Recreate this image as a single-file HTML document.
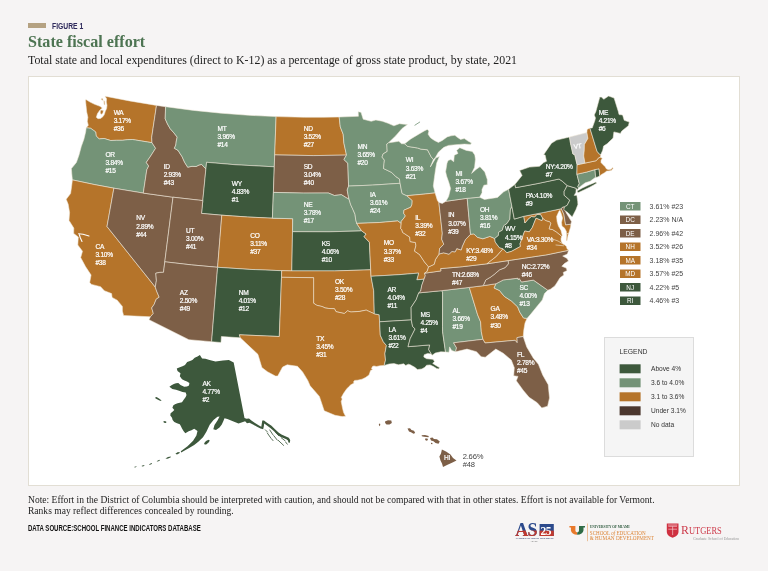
<!DOCTYPE html>
<html><head><meta charset="utf-8"><title>State fiscal effort</title>
<style>
html,body{margin:0;padding:0}
body{width:768px;height:571px;background:#f6f4f4;position:relative;overflow:hidden;font-family:"Liberation Serif",serif;color:#222}
.abs{position:absolute;white-space:nowrap}
#panel{position:absolute;left:28px;top:76px;width:710px;height:408px;background:#fff;border:1px solid #e2ded4}
svg{position:absolute;left:0;top:0}
.s{stroke:#f3ebdc;stroke-width:.55;stroke-linejoin:round}
.lb{font-family:"Liberation Sans",sans-serif;font-size:6.6px;fill:#fff;letter-spacing:-.3px;stroke:#fff;stroke-width:.2px}
.lbd{font-family:"Liberation Sans",sans-serif;font-size:7.6px;fill:#444;letter-spacing:-.2px}
</style></head><body>
<div class="abs" style="left:28px;top:23px;width:18px;height:5px;background:#b5a282"></div>
<div class="abs" style="left:52px;top:20.1px;font:bold 9.8px 'Liberation Sans',sans-serif;color:#2f2a5c;transform:scaleX(.69);transform-origin:0 0">FIGURE 1</div>
<div class="abs" id="title" style="left:28px;top:31.8px;font:bold 17px 'Liberation Serif',serif;color:#4d7452;transform:scaleX(.948);transform-origin:0 0">State fiscal effort</div>
<div class="abs" id="sub" style="left:28px;top:53px;font:12px 'Liberation Serif',serif;color:#1d1d1d;transform:scaleX(.99);transform-origin:0 0">Total state and local expenditures (direct to K-12) as a percentage of gross state product, by state, 2021</div>
<div id="panel"></div>
<svg width="768" height="571" viewBox="0 0 768 571">
<path class="s" fill="#b5742a" d="M86.2,127.8L88.3,125.3L87.3,121.3L87.9,117.3L86.7,112.0L86.0,105.3L85.5,100.5L85.9,99.6L90.0,102.0L94.6,104.3L100.0,106.3L102.3,108.0L100.0,110.0L97.5,113.5L96.3,117.3L98.0,118.7L100.6,118.4L103.0,116.6L104.3,114.6L105.3,111.3L106.6,108.6L107.0,105.3L106.3,102.0L106.6,98.7L105.0,96.2L129.5,100.9L156.5,105.4L151.7,137.3L152.0,142.7L132.5,139.5L127.4,139.7L122.5,140.3L116.6,140.3L110.7,140.5L104.2,138.5L99.2,138.9L96.1,135.9L95.7,132.0L93.2,130.1L90.6,128.3L86.2,127.8ZM100.8,110.0L103.4,110.4L103.0,112.5L102.0,114.2L100.6,114.0L100.2,112.0ZM103.8,100.6L104.7,101.2L104.9,105.0L104.0,104.5ZM101.5,98.5L103.0,98.8L102.8,100.3L101.4,100.0Z"/>
<path class="s" fill="#749377" d="M72.4,179.9L71.8,173.9L71.4,168.6L76.4,162.4L79.0,155.1L81.3,146.4L83.9,139.2L85.7,131.8L86.2,127.8L90.6,128.3L93.2,130.1L95.7,132.0L96.1,135.9L99.2,138.9L104.2,138.5L110.7,140.5L116.6,140.3L122.5,140.3L127.4,139.7L132.5,139.5L152.0,142.7L155.6,148.3L150.7,156.0L146.3,162.4L148.7,166.0L146.8,169.8L143.3,193.1L113.9,188.2L94.1,184.5L72.4,179.9Z"/>
<path class="s" fill="#b5742a" d="M123.6,315.5L122.4,311.1L122.4,306.4L117.2,300.2L112.1,297.4L111.6,293.6L104.3,290.7L100.6,286.7L91.6,284.4L89.7,282.5L91.1,275.0L85.5,266.6L80.7,257.6L82.5,251.2L77.8,245.0L78.3,237.0L73.7,233.4L73.8,228.1L69.0,220.4L69.6,212.5L68.2,204.2L66.2,199.3L70.6,193.5L71.6,186.4L72.4,179.9L94.1,184.5L113.9,188.2L107.0,226.5L155.3,287.1L156.7,291.3L159.2,297.2L156.2,299.2L154.2,304.3L151.7,307.9L153.3,313.4L150.4,316.8L123.6,315.5Z"/>
<path class="s" fill="#7d5f47" d="M113.9,188.2L143.3,193.1L173.0,197.2L164.8,261.8L163.5,272.3L159.7,272.4L155.8,273.2L156.4,280.6L155.3,287.1L107.0,226.5L113.9,188.2Z"/>
<path class="s" fill="#7d5f47" d="M156.5,105.4L165.6,106.7L165.2,118.8L167.5,124.0L170.2,128.7L174.0,133.0L177.2,137.1L176.3,141.0L175.8,145.0L174.4,148.3L178.1,150.4L180.0,153.5L182.1,156.7L184.6,162.3L187.7,167.2L192.0,166.3L196.1,166.5L199.0,165.0L201.7,164.4L203.5,166.5L205.9,168.9L202.8,200.6L173.0,197.2L143.3,193.1L146.8,169.8L148.7,166.0L146.3,162.4L150.7,156.0L155.6,148.3L152.0,142.7L151.7,137.3L156.5,105.4Z"/>
<path class="s" fill="#749377" d="M165.6,106.7L193.6,110.4L221.2,113.2L248.8,115.3L276.1,116.6L274.7,154.9L274.3,166.8L236.0,164.8L206.6,162.3L205.9,168.9L203.5,166.5L201.7,164.4L199.0,165.0L196.1,166.5L192.0,166.3L187.7,167.2L184.6,162.3L182.1,156.7L180.0,153.5L178.1,150.4L174.4,148.3L175.8,145.0L176.3,141.0L177.2,137.1L174.0,133.0L170.2,128.7L167.5,124.0L165.2,118.8L165.6,106.7Z"/>
<path class="s" fill="#3d583c" d="M206.6,162.3L236.0,164.8L274.3,166.8L273.4,192.4L272.4,218.2L247.6,217.0L221.8,215.2L201.5,213.4L202.8,200.6L205.9,168.9L206.6,162.3Z"/>
<path class="s" fill="#7d5f47" d="M173.0,197.2L202.8,200.6L201.5,213.4L221.8,215.2L217.6,267.3L191.7,264.9L164.8,261.8L173.0,197.2Z"/>
<path class="s" fill="#b5742a" d="M221.8,215.2L247.6,217.0L272.4,218.2L292.7,218.7L292.5,231.7L291.8,270.9L281.7,270.7L249.9,269.4L217.6,267.3L221.8,215.2Z"/>
<path class="s" fill="#7d5f47" d="M164.8,261.8L191.7,264.9L217.6,267.3L211.6,341.7L188.9,339.7L149.0,319.7L150.4,316.8L153.3,313.4L151.7,307.9L154.2,304.3L156.2,299.2L159.2,297.2L156.7,291.3L155.3,287.1L156.4,280.6L155.8,273.2L159.7,272.4L163.5,272.3L164.8,261.8Z"/>
<path class="s" fill="#3d583c" d="M217.6,267.3L249.9,269.4L281.7,270.7L281.5,277.3L279.3,336.5L239.4,334.8L240.3,337.8L221.4,336.5L221.0,342.5L211.6,341.7L217.6,267.3Z"/>
<path class="s" fill="#b5742a" d="M276.1,116.6L304.3,117.3L322.8,117.3L339.2,117.0L340.3,126.9L343.2,134.3L343.9,143.1L346.5,155.1L313.5,155.6L274.7,154.9L276.1,116.6Z"/>
<path class="s" fill="#7d5f47" d="M274.7,154.9L313.5,155.6L346.5,155.1L343.9,159.5L347.8,163.2L348.6,186.1L347.2,190.0L348.4,196.4L349.0,199.1L346.4,197.8L341.4,194.7L334.4,195.5L328.4,193.0L303.6,193.1L273.4,192.4L274.3,166.8L274.7,154.9Z"/>
<path class="s" fill="#749377" d="M273.4,192.4L303.6,193.1L328.4,193.0L334.4,195.5L341.4,194.7L346.4,197.8L349.0,199.1L350.7,204.7L352.8,209.2L355.0,214.3L355.7,219.5L356.7,223.4L359.1,227.1L361.7,230.9L329.0,231.8L292.5,231.7L292.7,218.7L272.4,218.2L273.4,192.4Z"/>
<path class="s" fill="#3d583c" d="M292.5,231.7L329.0,231.8L361.7,230.9L366.1,234.0L364.1,236.7L369.4,242.2L370.7,269.8L334.8,270.9L291.8,270.9L292.5,231.7Z"/>
<path class="s" fill="#b5742a" d="M281.7,270.7L291.8,270.9L334.8,270.9L370.7,269.8L371.0,276.3L373.7,290.7L374.3,313.8L366.2,310.1L359.7,311.4L350.9,312.0L347.6,310.8L344.3,313.5L336.1,311.7L334.4,308.7L328.9,308.5L325.0,307.9L322.3,306.6L316.8,305.3L313.6,303.2L313.6,277.7L281.5,277.3L281.7,270.7Z"/>
<path class="s" fill="#b5742a" d="M281.5,277.3L313.6,277.7L313.6,303.2L316.8,305.3L322.3,306.6L325.0,307.9L328.9,308.5L334.4,308.7L336.1,311.7L344.3,313.5L347.6,310.8L350.9,312.0L359.7,311.4L366.2,310.1L374.3,313.8L379.2,314.8L379.6,321.8L380.3,335.2L383.3,341.7L386.4,345.5L384.9,353.5L385.5,360.1L384.2,365.4L380.2,365.7L376.5,366.5L373.9,365.9L372.5,366.5L371.5,368.5L372.6,369.4L370.6,370.5L369.0,375.0L365.5,377.5L362.0,379.2L357.5,380.2L354.6,380.4L353.4,382.0L354.2,383.0L350.8,384.8L348.5,387.0L346.6,389.0L343.6,393.3L341.3,397.4L342.2,399.0L341.2,401.6L341.9,405.0L342.6,408.6L343.6,412.5L345.6,416.3L342.2,416.6L335.0,415.3L324.2,410.8L319.4,396.4L310.1,385.8L307.8,380.5L302.6,371.9L297.5,366.3L287.2,364.8L282.6,367.0L277.7,376.1L275.4,376.0L267.5,371.8L261.9,367.6L257.9,354.3L245.9,343.1L240.3,337.8L239.4,334.8L279.3,336.5L281.5,277.3Z"/>
<path class="s" fill="#749377" d="M339.2,117.0L358.4,116.3L358.2,111.7L361.0,112.3L363.2,119.2L371.2,121.3L375.8,120.0L382.3,121.2L388.1,123.3L393.9,125.8L399.4,123.7L404.4,124.3L407.5,124.5L402.1,128.4L395.6,135.9L388.5,142.8L386.8,144.0L387.2,151.4L383.1,153.9L382.0,157.1L384.4,160.1L383.5,168.5L391.6,172.4L395.8,176.6L399.4,178.9L400.1,183.3L372.7,185.1L348.6,186.1L347.8,163.2L343.9,159.5L346.5,155.1L343.9,143.1L343.2,134.3L340.3,126.9L339.2,117.0Z"/>
<path class="s" fill="#749377" d="M348.6,186.1L372.7,185.1L400.1,183.3L401.3,189.7L402.1,193.5L406.8,195.7L412.2,200.4L412.0,204.3L410.8,207.2L403.9,210.2L403.7,213.4L405.4,215.9L404.0,217.9L401.2,221.4L401.2,223.6L397.8,220.9L379.8,222.5L356.7,223.4L355.7,219.5L355.0,214.3L352.8,209.2L350.7,204.7L349.0,199.1L348.4,196.4L347.2,190.0L348.6,186.1Z"/>
<path class="s" fill="#b5742a" d="M356.7,223.4L379.8,222.5L397.8,220.9L401.2,223.6L400.7,228.6L401.9,229.8L402.6,232.4L409.7,237.1L410.1,241.6L415.4,242.5L415.9,245.7L414.5,251.1L419.6,254.6L424.5,262.0L428.6,266.9L427.1,271.5L424.6,273.2L425.3,275.8L424.0,279.2L416.8,279.8L418.6,273.1L398.9,274.7L371.0,276.3L370.7,269.8L369.4,242.2L364.1,236.7L366.1,234.0L361.7,230.9L359.1,227.1L356.7,223.4Z"/>
<path class="s" fill="#3d583c" d="M371.0,276.3L398.9,274.7L418.6,273.1L416.8,279.8L424.0,279.2L421.8,285.3L420.7,291.0L418.7,292.9L416.2,299.7L411.1,307.4L411.3,319.9L379.6,321.8L379.2,314.8L374.3,313.8L373.7,290.7L371.0,276.3Z"/>
<path class="s" fill="#3d583c" d="M379.6,321.8L411.3,319.9L412.6,326.5L415.1,328.9L410.2,338.6L408.0,346.7L429.7,344.9L428.7,349.6L432.1,355.3L431.3,354.0L427.7,353.4L424.2,354.8L423.8,357.0L426.6,358.7L430.1,359.1L433.0,359.3L434.5,361.4L432.7,363.4L435.9,365.5L439.4,367.6L438.9,369.0L436.5,368.4L433.6,366.6L430.1,364.9L426.6,365.2L424.8,367.3L421.9,368.9L417.4,369.6L414.8,367.3L410.2,364.7L408.4,364.2L405.7,365.4L403.7,363.8L398.4,364.8L394.0,363.6L389.1,364.0L384.2,365.4L385.5,360.1L384.9,353.5L386.4,345.5L383.3,341.7L380.3,335.2L379.6,321.8Z"/>
<path class="s" fill="#3d583c" d="M418.7,292.9L441.4,290.7L442.6,291.9L442.5,326.4L442.6,331.7L445.5,352.0L440.9,351.8L435.3,353.0L432.1,355.3L428.7,349.6L429.7,344.9L408.0,346.7L410.2,338.6L415.1,328.9L412.6,326.5L411.3,319.9L411.1,307.4L416.2,299.7L418.7,292.9Z"/>
<path class="s" fill="#749377" d="M441.4,290.7L469.3,287.4L477.6,314.7L480.6,321.9L481.3,331.7L482.9,339.3L453.6,342.8L456.5,347.8L455.6,351.8L451.7,350.6L449.6,346.9L449.0,352.3L445.5,352.0L442.6,331.7L442.5,326.4L442.6,291.9L441.4,290.7Z"/>
<path class="s" fill="#b5742a" d="M469.3,287.4L483.2,285.7L496.1,283.7L494.1,288.0L499.5,290.5L504.3,296.4L511.7,301.2L517.7,306.9L519.7,312.0L523.5,318.0L527.0,318.4L525.0,323.1L523.8,330.0L523.2,336.5L517.0,337.6L517.2,342.7L515.1,340.3L485.0,343.0L482.9,339.3L481.3,331.7L480.6,321.9L477.6,314.7L469.3,287.4Z"/>
<path class="s" fill="#7d5f47" d="M523.2,336.5L526.7,346.9L533.2,357.9L538.4,364.3L542.7,375.0L548.2,384.7L549.5,397.9L547.6,406.2L541.8,407.9L537.2,402.7L529.1,397.3L523.2,390.3L516.3,380.7L518.0,376.4L513.7,375.8L514.3,367.7L511.3,360.1L503.3,353.3L495.8,349.1L491.6,352.3L485.3,357.2L481.2,356.8L476.5,351.7L467.0,349.1L455.6,351.8L456.5,347.8L453.6,342.8L482.9,339.3L485.0,343.0L515.1,340.3L517.2,342.7L517.0,337.6L523.2,336.5Z"/>
<path class="s" fill="#749377" d="M496.1,283.7L503.3,279.9L518.0,278.2L518.2,279.5L519.3,278.6L521.5,282.0L533.4,280.1L547.8,290.2L544.5,293.5L542.3,299.9L535.9,307.8L530.8,314.1L527.0,318.4L523.5,318.0L519.7,312.0L517.7,306.9L511.7,301.2L504.3,296.4L499.5,290.5L494.1,288.0L496.1,283.7Z"/>
<path class="s" fill="#7d5f47" d="M508.1,260.6L546.9,254.8L568.6,250.3L567.4,254.0L562.7,256.1L567.1,258.4L568.5,261.0L564.4,263.6L561.8,266.3L566.2,268.0L567.1,270.6L563.2,272.4L563.9,275.0L560.0,277.7L557.4,282.0L554.8,285.9L550.4,289.2L547.8,290.2L533.4,280.1L521.5,282.0L519.3,278.6L518.2,279.5L518.0,278.2L503.3,279.9L496.1,283.7L483.2,285.7L485.8,279.9L490.9,276.9L494.8,273.9L499.6,269.8L505.2,267.6L508.4,263.8L508.1,260.6Z"/>
<path class="s" fill="#7d5f47" d="M424.6,273.2L440.9,270.9L440.6,268.6L462.4,266.7L487.0,263.8L508.1,260.6L508.4,263.8L505.2,267.6L499.6,269.8L494.8,273.9L490.9,276.9L485.8,279.9L483.2,285.7L469.3,287.4L441.4,290.7L418.7,292.9L420.7,291.0L421.8,285.3L424.0,279.2L425.3,275.8L424.6,273.2Z"/>
<path class="s" fill="#b5742a" d="M439.1,254.0L443.6,252.8L449.0,254.2L451.9,251.5L455.1,251.9L456.8,248.6L461.2,250.0L462.3,246.3L465.2,239.9L470.5,234.3L473.8,233.9L477.5,237.3L482.9,238.8L489.9,236.4L494.7,238.5L495.2,242.0L499.3,247.6L503.0,248.8L496.4,256.4L487.0,263.8L462.4,266.7L440.6,268.6L440.9,270.9L424.6,273.2L427.1,271.5L428.6,266.9L434.2,264.3L435.4,259.6L439.1,254.0Z"/>
<path class="s" fill="#749377" d="M388.5,142.8L394.2,142.0L398.8,141.2L401.5,143.7L404.6,143.8L407.7,146.4L417.7,148.0L420.7,149.1L427.5,149.8L431.1,156.7L433.4,159.6L430.3,167.0L432.8,162.9L435.7,158.1L439.4,156.4L436.7,163.1L435.5,169.7L434.4,177.5L433.3,186.0L435.1,192.9L423.2,194.2L406.8,195.7L402.1,193.5L401.3,189.7L400.1,183.3L399.4,178.9L395.8,176.6L391.6,172.4L383.5,168.5L384.4,160.1L382.0,157.1L383.1,153.9L387.2,151.4L386.8,144.0L388.5,142.8Z"/>
<path class="s" fill="#b5742a" d="M406.8,195.7L423.2,194.2L435.1,192.9L437.4,200.5L438.9,202.5L442.3,233.2L441.7,239.2L443.8,244.2L439.6,248.6L439.1,254.0L435.4,259.6L434.2,264.3L428.6,266.9L424.5,262.0L419.6,254.6L414.5,251.1L415.9,245.7L415.4,242.5L410.1,241.6L409.7,237.1L402.6,232.4L401.9,229.8L400.7,228.6L401.2,223.6L401.2,221.4L404.0,217.9L405.4,215.9L403.7,213.4L403.9,210.2L410.8,207.2L412.0,204.3L412.2,200.4L406.8,195.7Z"/>
<path class="s" fill="#7d5f47" d="M438.9,202.5L442.3,203.4L445.9,201.3L467.2,198.3L470.5,234.3L465.2,239.9L462.3,246.3L461.2,250.0L456.8,248.6L455.1,251.9L451.9,251.5L449.0,254.2L443.6,252.8L439.1,254.0L439.6,248.6L443.8,244.2L441.7,239.2L442.3,233.2L438.9,202.5Z"/>
<path class="s" fill="#749377" d="M467.2,198.3L479.6,197.2L484.5,199.5L487.5,199.0L494.5,197.9L497.5,197.4L503.7,191.8L508.6,189.3L511.9,206.4L510.4,209.7L509.9,219.1L507.0,223.5L503.7,225.8L502.3,230.2L498.6,232.3L498.4,235.5L494.7,238.5L489.9,236.4L482.9,238.8L477.5,237.3L473.8,233.9L470.5,234.3L467.2,198.3Z"/>
<path class="s" fill="#749377" d="M445.9,201.3L448.6,196.6L450.6,188.5L448.8,182.3L446.6,176.1L445.6,171.7L447.0,163.2L448.1,160.5L450.9,159.5L453.7,161.7L454.3,155.2L458.0,153.4L456.6,150.4L459.8,147.7L466.3,150.4L472.3,151.4L474.8,154.9L475.4,159.3L474.6,167.2L471.6,173.4L476.0,169.5L480.0,166.7L484.8,172.1L487.3,179.5L487.3,184.7L483.9,185.2L482.0,189.4L482.0,192.7L479.6,197.2L467.2,198.3L445.9,201.3ZM433.4,159.6L435.4,157.4L438.4,152.3L440.7,150.0L443.9,147.3L448.6,145.4L455.7,144.7L459.7,144.4L464.4,144.1L470.4,144.4L471.5,142.9L468.3,141.3L464.4,138.6L460.5,139.4L457.3,137.3L454.9,135.3L451.0,135.8L447.1,136.9L442.3,140.5L438.4,142.4L434.4,140.5L430.5,137.8L428.1,134.2L428.9,131.0L427.3,129.4L424.2,131.0L418.7,134.2L410.8,138.9L404.6,143.8L407.7,146.4L417.7,148.0L420.7,149.1L427.5,149.8L431.1,156.7L433.4,159.6Z"/>
<path class="s" fill="#3d583c" d="M511.9,206.4L514.3,219.1L523.8,216.3L524.9,223.0L528.5,218.7L531.4,216.5L534.7,216.9L536.8,214.4L540.7,214.6L542.6,218.0L542.0,220.7L536.0,218.2L532.3,227.5L529.3,231.8L524.7,231.0L520.0,243.8L520.5,246.4L511.4,251.4L506.8,252.7L503.0,248.8L499.3,247.6L495.2,242.0L494.7,238.5L498.4,235.5L498.6,232.3L502.3,230.2L503.7,225.8L507.0,223.5L509.9,219.1L510.4,209.7L511.9,206.4Z"/>
<path class="s" fill="#b5742a" d="M503.0,248.8L506.8,252.7L511.4,251.4L520.5,246.4L520.0,243.8L524.7,231.0L529.3,231.8L532.3,227.5L536.0,218.2L542.0,220.7L542.6,218.0L545.4,220.4L549.7,221.7L550.9,223.2L549.2,228.9L552.6,229.6L556.5,232.0L561.7,236.3L561.0,238.7L561.2,241.2L562.6,243.7L564.8,245.0L566.3,246.2L567.1,248.8L568.6,250.3L546.9,254.8L508.1,260.6L487.0,263.8L496.4,256.4L503.0,248.8ZM566.5,233.8L566.7,235.6L566.3,240.0L566.9,241.2L568.0,235.6L568.6,233.5Z"/>
<path class="s" fill="#b5742a" d="M523.8,216.3L543.8,212.4L561.1,208.8L562.2,210.5L563.9,214.5L565.6,224.8L570.9,224.2L570.6,226.9L569.3,231.3L568.6,233.5L566.5,233.8L566.3,231.3L564.3,227.8L562.0,226.2L561.5,222.5L562.5,218.1L561.3,213.8L559.9,210.3L558.8,211.6L556.6,216.4L557.1,221.6L558.4,226.0L561.0,230.4L562.3,235.6L561.7,236.3L556.5,232.0L552.6,229.6L549.2,228.9L550.9,223.2L549.7,221.7L545.4,220.4L542.6,218.0L540.7,214.6L536.8,214.4L534.7,216.9L531.4,216.5L528.5,218.7L524.9,223.0L523.8,216.3Z"/>
<path class="s" fill="#7d5f47" d="M561.1,208.8L562.6,207.0L564.5,206.8L564.3,208.5L566.3,212.9L568.9,217.3L571.5,221.6L570.9,224.2L565.6,224.8L563.9,214.5L562.2,210.5L561.1,208.8Z"/>
<path class="s" fill="#3d583c" d="M508.6,189.3L515.0,184.3L515.6,187.7L537.9,183.5L559.0,179.0L562.4,181.3L567.2,185.6L564.1,191.5L564.2,195.3L569.8,200.2L567.2,205.3L564.5,206.8L562.6,207.0L561.1,208.8L543.8,212.4L523.8,216.3L514.3,219.1L511.9,206.4L508.6,189.3Z"/>
<path class="s" fill="#3d583c" d="M567.2,185.6L576.2,188.3L575.9,192.4L574.2,195.4L576.8,195.2L577.7,201.3L577.9,204.6L575.9,209.7L572.2,216.9L568.1,212.8L563.8,209.8L564.5,206.8L567.2,205.3L569.8,200.2L564.2,195.3L564.1,191.5L567.2,185.6Z"/>
<path class="s" fill="#3d583c" d="M515.0,184.3L522.1,175.4L519.6,170.4L529.5,167.1L539.5,166.3L543.7,162.5L546.5,161.3L545.1,155.0L543.6,154.7L551.5,143.2L556.6,140.1L569.5,137.0L570.5,143.3L572.9,154.0L574.8,154.8L577.1,164.8L576.9,174.2L579.3,183.6L577.8,186.6L578.6,187.9L577.1,190.1L576.2,188.3L567.2,185.6L562.4,181.3L559.0,179.0L537.9,183.5L515.6,187.7L515.0,184.3ZM577.0,191.0L582.4,188.0L588.2,185.3L593.2,183.2L596.0,181.9L596.6,183.2L593.8,184.9L589.6,187.3L584.4,189.8L578.0,192.8L577.0,191.0Z"/>
<path class="s" fill="#749377" d="M576.9,174.2L586.8,172.0L595.0,169.6L595.6,177.2L590.1,181.3L585.3,182.8L581.7,185.4L578.6,187.9L577.8,186.6L579.3,183.6L576.9,174.2Z"/>
<path class="s" fill="#3d583c" d="M595.0,169.6L599.0,168.8L599.4,172.0L599.8,176.0L597.0,177.2L595.6,177.2L595.0,169.6Z"/>
<path class="s" fill="#b5742a" d="M577.1,164.8L585.0,163.1L596.2,160.7L598.6,157.8L600.3,157.3L602.3,158.3L601.0,160.5L601.0,162.6L603.1,164.7L605.2,166.8L606.3,168.8L608.5,169.8L611.0,169.3L612.8,167.6L613.2,168.3L611.3,170.4L608.5,171.0L606.8,171.0L604.5,172.8L601.5,174.5L599.8,176.0L599.4,172.0L599.0,168.8L595.0,169.6L586.8,172.0L576.9,174.2L577.1,164.8Z"/>
<path class="s" fill="#cbcbcb" d="M569.5,137.0L586.9,132.6L587.9,138.4L584.4,144.5L584.3,149.8L583.7,155.9L585.0,163.1L577.1,164.8L574.8,154.8L572.9,154.0L570.5,143.3L569.5,137.0Z"/>
<path class="s" fill="#b5742a" d="M586.9,132.6L587.1,129.4L589.9,128.0L597.0,151.2L599.5,154.2L600.8,154.6L600.3,157.3L598.6,157.8L596.2,160.7L585.0,163.1L583.7,155.9L584.3,149.8L584.4,144.5L587.9,138.4L586.9,132.6Z"/>
<path class="s" fill="#3d583c" d="M589.9,128.0L592.2,128.0L594.8,120.8L595.5,117.9L594.2,115.0L595.8,111.7L599.8,97.1L601.5,97.1L603.7,99.3L608.6,96.0L614.1,98.0L618.3,111.5L619.0,114.6L622.6,114.9L624.2,120.3L629.3,122.1L628.4,125.7L621.8,131.0L620.4,133.4L613.9,131.9L613.1,138.1L607.1,143.8L603.6,146.1L602.7,150.3L600.8,154.6L599.5,154.2L597.0,151.2L589.9,128.0Z"/>
<path fill="#3d583c" d="M199.9,355.1L202.1,358.4L205.5,358.8L209.5,359.9L215.5,361.4L222.9,360.6L228.9,359.9L233.7,362.6L244.5,417.9L246.5,418.8L249,418.6L251.4,420.5L255,423L259,425.6L261.3,426.8L261.8,423.5L262.3,420.5L264,420.4L267,422.8L271.5,425.8L275,429.3L278.8,432.8L281.5,434.6L284.2,435.8L288.8,437.8L290.2,440L289.9,442.8L288.4,442.6L288,440.4L286.3,439.2L283.3,438L280.3,436.7L277.3,434.4L273.8,431L270.3,427.9L266.3,425.1L264.2,423.6L263.8,426.5L263.2,429.2L260.5,428.6L257,426.8L253,424.5L249.5,422.8L247,423.2L245.1,421.2L241.5,422.6L238.5,423.4L232.9,421.2L227.4,418.9L224.5,418.3L223.4,421L221.8,424.5L219.5,427.5L216,430L213.3,429.2L214.5,425L217.5,420.5L219.6,416.6L217.5,416.8L213.5,420L209.7,424.8L206.4,431.7L203,437.2L198.6,441.6L194.2,444.9L188.7,448.3L184.2,450.7L181.2,452.6L180.8,451.2L187.5,446.3L193.1,440.7L196.4,435.4L197.5,431L194.2,428.8L191.5,430.2L188.7,431.2L185.3,433.2L183.5,431L182,428.6L180.8,426L179.8,424.3L177,423.3L174.3,422.1L172.6,420L172,417.7L170.3,415.5L170.6,413.3L172.5,411.8L174.3,410L172.4,407.8L173.2,405.5L175,404.3L177.6,403.3L182,402.3L183.5,400.1L185.7,397.1L186.5,394.9L185.7,392.6L182.5,391.9L179.8,391.1L176,389.7L172.3,388.9L169.4,386.7L171.5,385.2L173.8,384L176,383.2L178.3,383L180.5,384.9L184.2,386.7L187,386.4L189,385.5L189.4,383L187,381.6L185,380.7L182,379.2L179.8,376.3L180.5,373.3L177.5,371L176.8,368.5L179.8,367.3L182.5,366.3L185,365.1L187.2,362.1L190,361L192.4,359.9L194.7,357.7L197.5,356.5ZM155.2,397.4L156.5,397.0L159,398.6L161.3,400.2L161.2,401L159.5,400.6L157,399.2L155.3,398.2ZM163.2,421.4L165,421L166.6,421.9L165.8,422.9L164,422.8ZM204.1,443.2L206,441L208.5,439.8L209.8,440.6L208.6,442.6L206.2,444.4L204.6,444.4ZM175.4,453.8L177.5,452.3L179.8,452L179.4,453.3L177,454.4ZM165.4,458.4L168,457L170.9,456.4L170.5,457.6L167.5,458.8ZM156.6,461.3L158.3,460.2L159.9,459.8L159.6,460.8L157.8,461.6ZM148.8,464.4L150.5,463.5L152.1,463.1L151.8,464L150,464.7ZM141.5,465.9L143,465.3L144.5,465.2L144.2,465.9L142.5,466.4ZM134,467L135.5,466.5L136.8,466.5L136.4,467.1L135,467.4Z"/><path fill="none" stroke="#3d583c" stroke-width="1" stroke-linecap="round" opacity=".85" d="M265.3,429.8L267.5,432M267.3,433L270.8,438M269.8,430L272.8,434.6M273.7,435.6L277.3,440.1M278.3,440.4L283.6,445.4M281.2,437.7L285.3,441M275.7,432.4L278.8,435.8M285.8,442.3L287.3,444.2M271.5,438.8L273,440.6"/>
<path fill="#7d5f47" d="M441.9,449.4L446,451.5L450.5,454.5L453,458L456.5,460.4L452.5,462.5L447,465L443,467L442,463.5L440.5,460.5L439.4,456.5L441,453.5Z"/>
<path fill="#7d5f47" d="M430,438L432.5,437.5L434,439L437,439.2L439.8,441.5L438.5,443.7L435.5,443L433.5,441.2L431,440.5Z"/>
<path fill="#7d5f47" d="M421.7,435.2L425,435L428.7,436L428.5,437.2L424,436.8L421.8,436.3Z"/>
<path fill="#7d5f47" d="M425.2,438.6L427.4,438.4L428,440L426.5,440.8L425.2,440Z"/>
<path fill="#7d5f47" d="M431,442.8L432.5,443L432.3,444.2L431,444Z"/>
<path fill="#7d5f47" d="M407.5,428.5L410,428.2L411.5,430L414,430.8L415.2,433L413.5,433.7L411,432.3L409,431.5Z"/>
<path fill="#7d5f47" d="M385,421.5L388,420.2L391.3,420.6L391.8,423L389.5,424.6L386.5,424.4L385.2,423Z"/>
<path fill="#7d5f47" d="M378.8,424L380,423.6L380.3,425L379.2,426.2Z"/>
<path fill="none" stroke="#fff" stroke-width="1.1" stroke-linecap="round" stroke-linejoin="round" d="M78.6,233.8L83,234.2L89,236M79.3,234.6L80.4,238L82,241.5"/>
<path fill="none" stroke="#f4ecdd" stroke-width=".6" stroke-linecap="round" d="M553.1,239.2L558,241L562,243.4M556,245L563.5,245.8"/>
<path fill="none" stroke="#749377" stroke-width="1" stroke-linecap="round" opacity=".8" d="M414.9,125.2L419.7,122.1"/>
<rect x="604.5" y="337.5" width="89" height="119" fill="#f5f5f5" stroke="#dcdcdc" stroke-width="1"/>
<text x="619.5" y="354.3" style="font:6.8px 'Liberation Sans',sans-serif;fill:#333">LEGEND</text>
<rect x="619.6" y="364.3" width="21" height="9" fill="#3d583c"/>
<text x="651" y="371.2" style="font:6.6px 'Liberation Sans',sans-serif;fill:#333">Above 4%</text>
<rect x="619.6" y="378.3" width="21" height="9" fill="#749377"/>
<text x="651" y="385.2" style="font:6.6px 'Liberation Sans',sans-serif;fill:#333">3.6 to 4.0%</text>
<rect x="619.6" y="392.3" width="21" height="9" fill="#b5742a"/>
<text x="651" y="399.2" style="font:6.6px 'Liberation Sans',sans-serif;fill:#333">3.1 to 3.6%</text>
<rect x="619.6" y="406.3" width="21" height="9" fill="#4b372e"/>
<text x="651" y="413.2" style="font:6.6px 'Liberation Sans',sans-serif;fill:#333">Under 3.1%</text>
<rect x="619.6" y="420.3" width="21" height="9" fill="#cbcbcb"/>
<text x="651" y="427.2" style="font:6.6px 'Liberation Sans',sans-serif;fill:#333">No data</text>
<rect x="620" y="202.0" width="20.5" height="8.5" fill="#749377"/>
<text x="630.2" y="208.6" text-anchor="middle" style="font:6.4px 'Liberation Sans',sans-serif;fill:#fff">CT</text>
<text x="649.6" y="208.8" style="font:7px 'Liberation Sans',sans-serif;fill:#444">3.61% #23</text>
<rect x="620" y="215.5" width="20.5" height="8.5" fill="#7d5f47"/>
<text x="630.2" y="222.1" text-anchor="middle" style="font:6.4px 'Liberation Sans',sans-serif;fill:#fff">DC</text>
<text x="649.6" y="222.3" style="font:7px 'Liberation Sans',sans-serif;fill:#444">2.23% N/A</text>
<rect x="620" y="229.0" width="20.5" height="8.5" fill="#7d5f47"/>
<text x="630.2" y="235.6" text-anchor="middle" style="font:6.4px 'Liberation Sans',sans-serif;fill:#fff">DE</text>
<text x="649.6" y="235.8" style="font:7px 'Liberation Sans',sans-serif;fill:#444">2.96% #42</text>
<rect x="620" y="242.5" width="20.5" height="8.5" fill="#b5742a"/>
<text x="630.2" y="249.1" text-anchor="middle" style="font:6.4px 'Liberation Sans',sans-serif;fill:#fff">NH</text>
<text x="649.6" y="249.3" style="font:7px 'Liberation Sans',sans-serif;fill:#444">3.52% #26</text>
<rect x="620" y="256.0" width="20.5" height="8.5" fill="#b5742a"/>
<text x="630.2" y="262.6" text-anchor="middle" style="font:6.4px 'Liberation Sans',sans-serif;fill:#fff">MA</text>
<text x="649.6" y="262.8" style="font:7px 'Liberation Sans',sans-serif;fill:#444">3.18% #35</text>
<rect x="620" y="269.5" width="20.5" height="8.5" fill="#b5742a"/>
<text x="630.2" y="276.1" text-anchor="middle" style="font:6.4px 'Liberation Sans',sans-serif;fill:#fff">MD</text>
<text x="649.6" y="276.3" style="font:7px 'Liberation Sans',sans-serif;fill:#444">3.57% #25</text>
<rect x="620" y="283.0" width="20.5" height="8.5" fill="#3d583c"/>
<text x="630.2" y="289.6" text-anchor="middle" style="font:6.4px 'Liberation Sans',sans-serif;fill:#fff">NJ</text>
<text x="649.6" y="289.8" style="font:7px 'Liberation Sans',sans-serif;fill:#444">4.22% #5</text>
<rect x="620" y="296.5" width="20.5" height="8.5" fill="#3d583c"/>
<text x="630.2" y="303.1" text-anchor="middle" style="font:6.4px 'Liberation Sans',sans-serif;fill:#fff">RI</text>
<text x="649.6" y="303.3" style="font:7px 'Liberation Sans',sans-serif;fill:#444">4.46% #3</text>
<text class="lb"><tspan x="113.7" y="115.1">WA</tspan><tspan x="113.7" y="123.2">3.17%</tspan><tspan x="113.7" y="131.2">#36</tspan></text>
<text class="lb"><tspan x="105.5" y="156.9">OR</tspan><tspan x="105.5" y="165.0">3.84%</tspan><tspan x="105.5" y="173.0">#15</tspan></text>
<text class="lb"><tspan x="163.7" y="168.6">ID</tspan><tspan x="163.7" y="176.7">2.93%</tspan><tspan x="163.7" y="184.7">#43</tspan></text>
<text class="lb"><tspan x="217.5" y="131.1">MT</tspan><tspan x="217.5" y="139.2">3.96%</tspan><tspan x="217.5" y="147.2">#14</tspan></text>
<text class="lb"><tspan x="231.8" y="186.2">WY</tspan><tspan x="231.8" y="194.3">4.83%</tspan><tspan x="231.8" y="202.3">#1</tspan></text>
<text class="lb"><tspan x="136.2" y="220.4">NV</tspan><tspan x="136.2" y="228.5">2.89%</tspan><tspan x="136.2" y="236.5">#44</tspan></text>
<text class="lb"><tspan x="95.5" y="248.6">CA</tspan><tspan x="95.5" y="256.6">3.10%</tspan><tspan x="95.5" y="264.7">#38</tspan></text>
<text class="lb"><tspan x="186.1" y="232.9">UT</tspan><tspan x="186.1" y="241.0">3.00%</tspan><tspan x="186.1" y="249.0">#41</tspan></text>
<text class="lb"><tspan x="179.8" y="295.0">AZ</tspan><tspan x="179.8" y="303.1">2.50%</tspan><tspan x="179.8" y="311.1">#49</tspan></text>
<text class="lb"><tspan x="238.7" y="294.9">NM</tspan><tspan x="238.7" y="302.9">4.01%</tspan><tspan x="238.7" y="311.0">#12</tspan></text>
<text class="lb"><tspan x="250.2" y="238.0">CO</tspan><tspan x="250.2" y="246.1">3.11%</tspan><tspan x="250.2" y="254.1">#37</tspan></text>
<text class="lb"><tspan x="316.2" y="340.6">TX</tspan><tspan x="316.2" y="348.6">3.45%</tspan><tspan x="316.2" y="356.7">#31</tspan></text>
<text class="lb"><tspan x="335.0" y="283.6">OK</tspan><tspan x="335.0" y="291.6">3.50%</tspan><tspan x="335.0" y="299.7">#28</tspan></text>
<text class="lb"><tspan x="321.7" y="246.1">KS</tspan><tspan x="321.7" y="254.2">4.06%</tspan><tspan x="321.7" y="262.2">#10</tspan></text>
<text class="lb"><tspan x="303.7" y="131.1">ND</tspan><tspan x="303.7" y="139.2">3.52%</tspan><tspan x="303.7" y="147.2">#27</tspan></text>
<text class="lb"><tspan x="303.7" y="168.6">SD</tspan><tspan x="303.7" y="176.7">3.04%</tspan><tspan x="303.7" y="184.7">#40</tspan></text>
<text class="lb"><tspan x="303.7" y="206.9">NE</tspan><tspan x="303.7" y="215.0">3.78%</tspan><tspan x="303.7" y="223.0">#17</tspan></text>
<text class="lb"><tspan x="357.5" y="148.6">MN</tspan><tspan x="357.5" y="156.7">3.65%</tspan><tspan x="357.5" y="164.7">#20</tspan></text>
<text class="lb"><tspan x="405.8" y="162.4">WI</tspan><tspan x="405.8" y="170.5">3.63%</tspan><tspan x="405.8" y="178.5">#21</tspan></text>
<text class="lb"><tspan x="455.5" y="176.1">MI</tspan><tspan x="455.5" y="184.2">3.67%</tspan><tspan x="455.5" y="192.2">#18</tspan></text>
<text class="lb"><tspan x="370.0" y="196.9">IA</tspan><tspan x="370.0" y="205.0">3.61%</tspan><tspan x="370.0" y="213.0">#24</tspan></text>
<text class="lb"><tspan x="415.2" y="219.9">IL</tspan><tspan x="415.2" y="228.0">3.39%</tspan><tspan x="415.2" y="236.0">#32</tspan></text>
<text class="lb"><tspan x="448.3" y="217.4">IN</tspan><tspan x="448.3" y="225.5">3.07%</tspan><tspan x="448.3" y="233.5">#39</tspan></text>
<text class="lb"><tspan x="480.0" y="212.0">OH</tspan><tspan x="480.0" y="220.1">3.81%</tspan><tspan x="480.0" y="228.1">#16</tspan></text>
<text class="lb"><tspan x="505.0" y="231.4">WV</tspan><tspan x="505.0" y="239.5">4.15%</tspan><tspan x="505.0" y="247.5">#8</tspan></text>
<text class="lb"><tspan x="598.7" y="114.9">ME</tspan><tspan x="598.7" y="123.0">4.21%</tspan><tspan x="598.7" y="131.0">#6</tspan></text>
<text class="lb"><tspan x="545.7" y="168.7">NY:4.20%</tspan><tspan x="545.7" y="176.8">#7</tspan></text>
<text class="lb"><tspan x="525.7" y="198.0">PA:4.10%</tspan><tspan x="525.7" y="206.1">#9</tspan></text>
<text class="lb"><tspan x="466.2" y="253.1">KY:3.48%</tspan><tspan x="466.2" y="261.1">#29</tspan></text>
<text class="lb"><tspan x="452.0" y="276.6">TN:2.68%</tspan><tspan x="452.0" y="284.6">#47</tspan></text>
<text class="lb"><tspan x="521.7" y="268.6">NC:2.72%</tspan><tspan x="521.7" y="276.6">#46</tspan></text>
<text class="lb"><tspan x="526.7" y="241.6">VA:3.30%</tspan><tspan x="526.7" y="249.7">#34</tspan></text>
<text class="lb"><tspan x="519.5" y="289.9">SC</tspan><tspan x="519.5" y="297.9">4.00%</tspan><tspan x="519.5" y="306.0">#13</tspan></text>
<text class="lb"><tspan x="490.6" y="311.4">GA</tspan><tspan x="490.6" y="319.4">3.48%</tspan><tspan x="490.6" y="327.5">#30</tspan></text>
<text class="lb"><tspan x="452.5" y="312.7">AL</tspan><tspan x="452.5" y="320.8">3.66%</tspan><tspan x="452.5" y="328.8">#19</tspan></text>
<text class="lb"><tspan x="420.6" y="317.0">MS</tspan><tspan x="420.6" y="325.1">4.25%</tspan><tspan x="420.6" y="333.1">#4</tspan></text>
<text class="lb"><tspan x="383.7" y="245.4">MO</tspan><tspan x="383.7" y="253.5">3.37%</tspan><tspan x="383.7" y="261.5">#33</tspan></text>
<text class="lb"><tspan x="387.5" y="291.6">AR</tspan><tspan x="387.5" y="299.6">4.04%</tspan><tspan x="387.5" y="307.7">#11</tspan></text>
<text class="lb"><tspan x="388.4" y="331.6">LA</tspan><tspan x="388.4" y="339.6">3.61%</tspan><tspan x="388.4" y="347.7">#22</tspan></text>
<text class="lb"><tspan x="517.0" y="356.9">FL</tspan><tspan x="517.0" y="364.9">2.78%</tspan><tspan x="517.0" y="373.0">#45</tspan></text>
<text class="lb"><tspan x="202.5" y="386.1">AK</tspan><tspan x="202.5" y="394.1">4.77%</tspan><tspan x="202.5" y="402.2">#2</tspan></text>
<text class="lb" transform="translate(574,149) rotate(-8)">VT</text>
<text class="lb" x="444" y="459.8">HI</text>
<text class="lbd"><tspan x="462.7" y="458.8">2.66%</tspan><tspan x="462.7" y="467">#48</tspan></text>
<g id="asi">
<text x="515.2" y="536" style="font:bold 18px 'Liberation Serif',serif;fill:#2c4a8c;letter-spacing:-.6px">AS</text>
<rect x="515" y="530.6" width="24" height="5.6" fill="#f5f3f2" opacity="0"/>
<clipPath id="asic"><rect x="514" y="530.4" width="26" height="6"/></clipPath>
<text x="515.2" y="536" clip-path="url(#asic)" style="font:bold 18px 'Liberation Serif',serif;fill:#c0392f;letter-spacing:-.6px">AS</text>
<rect x="539.6" y="524" width="14.2" height="12" fill="#2c4a8c"/>
<rect x="539.6" y="530.6" width="14.2" height="5.4" fill="#c0392f"/>
<text x="540.6" y="534.6" style="font:bold 11.5px 'Liberation Serif',serif;fill:#fff;letter-spacing:-.6px">25</text>
<text x="515.6" y="539.1" textLength="38" lengthAdjust="spacingAndGlyphs" style="font:bold 2.6px 'Liberation Serif',serif;fill:#2c3a6c">ALBERT SHANKER INSTITUTE</text>
<text x="530.5" y="541.6" textLength="7" lengthAdjust="spacingAndGlyphs" style="font:1.8px 'Liberation Sans',sans-serif;fill:#777">YEARS</text>
</g>
<g id="um">
<path d="M569.4,526h6v4.6a1.8,1.8 0 0 0 1.8,1.8v2.3a6.3,4.6 0 0 1 -6.3,-4.4v-2.7h-1.5z" fill="#e8792b"/>
<path d="M585,526h-6v4.6a1.8,1.8 0 0 1 -1.8,1.8v2.3a6.3,4.6 0 0 0 6.3,-4.4v-2.7h1.5z" fill="#2f6b45"/>
<rect x="587.1" y="523.5" width=".5" height="17.7" fill="#e08a3c"/>
<text x="589.8" y="528.3" textLength="39.8" lengthAdjust="spacingAndGlyphs" style="font:bold 3.6px 'Liberation Serif',serif;fill:#2f5b3f">UNIVERSITY OF MIAMI</text>
<text x="589.8" y="535" textLength="55.8" lengthAdjust="spacingAndGlyphs" style="font:5.5px 'Liberation Serif',serif;fill:#dd8536">SCHOOL <tspan style="font-style:italic">of</tspan> EDUCATION</text>
<text x="589.8" y="540.2" textLength="64.2" lengthAdjust="spacingAndGlyphs" style="font:5.5px 'Liberation Serif',serif;fill:#dd8536">&amp; HUMAN DEVELOPMENT</text>
</g>
<g id="ru">
<path d="M666.8,523.6h11.7v8.2c0,3 -2.6,5 -5.85,6c-3.25,-1 -5.85,-3 -5.85,-6z" fill="#cf3040"/>
<path d="M668.3,526.3h8.7M672.65,526.3v8.8M668.3,529.2h8.7" stroke="#f3c9cd" stroke-width=".7" fill="none"/>
<path d="M668,525h9.3" stroke="#f7dfe1" stroke-width=".6" fill="none"/>
<text x="681" y="534.2" textLength="40.8" lengthAdjust="spacingAndGlyphs" style="font:13.4px 'Liberation Serif',serif;fill:#cd3a4a">R<tspan style="font-size:9.6px">UTGERS</tspan></text>
<text x="693" y="539.8" textLength="46.2" lengthAdjust="spacingAndGlyphs" style="font:4.3px 'Liberation Serif',serif;fill:#9a9a9a">Graduate School of Education</text>
</g>
</svg>
<div class="abs" id="n1" style="left:28px;top:494px;font:10.5px 'Liberation Serif',serif;color:#1d1d1d;transform:scaleX(.909);transform-origin:0 0">Note: Effort in the District of Columbia should be interpreted with caution, and should not be compared with that in other states. Effort is not available for Vermont.</div>
<div class="abs" id="n2" style="left:28px;top:505px;font:10.5px 'Liberation Serif',serif;color:#1d1d1d;transform:scaleX(.909);transform-origin:0 0">Ranks may reflect differences concealed by rounding.</div>
<div class="abs" id="ds" style="left:28px;top:523.1px;font:bold 8.6px 'Liberation Sans',sans-serif;color:#111;transform:scaleX(.704);transform-origin:0 0">DATA SOURCE:SCHOOL FINANCE INDICATORS DATABASE</div>
</body></html>
